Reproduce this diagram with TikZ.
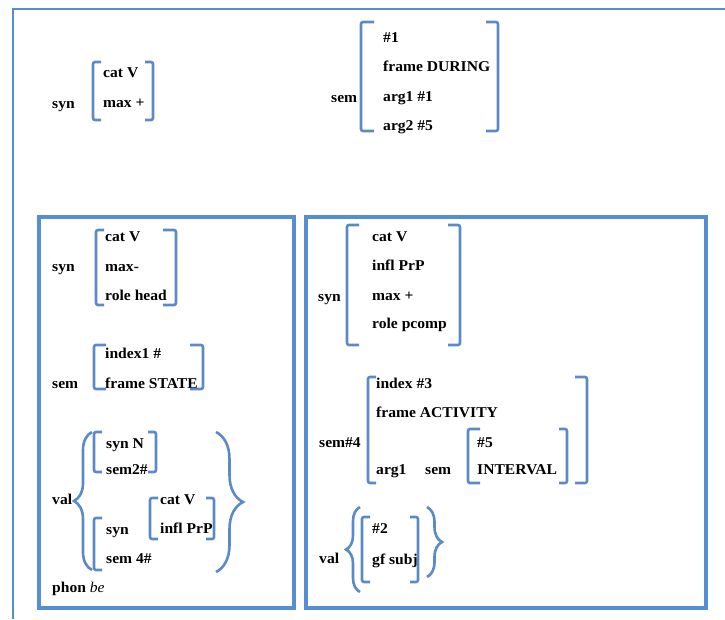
\documentclass[tikz,border=0pt]{standalone}
\usepackage{fontspec}
\setmainfont{Liberation Serif}[FakeStretch=1.04]
\usetikzlibrary{decorations.pathreplacing}
\definecolor{frameblue}{RGB}{85,142,213}
\definecolor{brkblue}{RGB}{92,138,198}

\begin{document}
\begin{tikzpicture}[x=1pt, y=-1pt,
  lbl/.style={anchor=mid west, inner sep=0pt, yshift=-3pt, font=\fontsize{15}{17}\selectfont\bfseries},
  brk/.style={draw=brkblue, line width=2.6pt, rounded corners=2pt},
  box/.style={draw=frameblue, line width=3.6pt},
  frame/.style={draw=frameblue, line width=2.6pt},
  brc/.style={draw=brkblue, line width=2.6pt, decorate, decoration={brace, amplitude=#1}}]
  \useasboundingbox (0,0) rectangle (725,619);
  % frames
  \draw[frame] (725,9) -- (13,9) -- (13,619);
  \draw[box] (39,217) rectangle (294,608);
  \draw[box] (306,217) rectangle (706,608);
  % top: syn
  \node[lbl] (topsyn) at (52,103) {syn};
  \node[lbl] (topcat) at (103,72) {cat V};
  \node[lbl] (topmax) at (103,102) {max +};
  \draw[brk] (101,62) -- (93,62) -- (93,120) -- (101,120);
  \draw[brk] (145,62) -- (153,62) -- (153,120) -- (145,120);
  % top: sem
  \node[lbl] (topsem) at (331,97) {sem};
  \node[lbl] (topone) at (383,37) {\#1};
  \node[lbl] (topframe) at (383,66) {frame DURING};
  \node[lbl] (toparga) at (383,96) {arg1 \#1};
  \node[lbl] (topargb) at (383,125) {arg2 \#5};
  \draw[brk] (374,22) -- (361,22) -- (361,131) -- (374,131);
  \draw[brk] (486,22) -- (498,22) -- (498,131) -- (486,131);
  % left box: syn
  \node[lbl] (lsyn) at (52,266) {syn};
  \node[lbl] (lcat) at (105,236) {cat V};
  \node[lbl] (lmax) at (105,266) {max-};
  \node[lbl] (lrole) at (105,295) {role head};
  \draw[brk] (104,230) -- (96,230) -- (96,305) -- (104,305);
  \draw[brk] (163,230) -- (176,230) -- (176,305) -- (163,305);
  % left box: sem
  \node[lbl] (lsem) at (52,383) {sem};
  \node[lbl] (lindex) at (105,353) {index1 \#};
  \node[lbl] (lframe) at (105,383) {frame STATE};
  \draw[brk] (106,345) -- (94,345) -- (94,389) -- (106,389);
  \draw[brk] (190,345) -- (203,345) -- (203,389) -- (190,389);
  % left box: val
  \node[lbl] (lval) at (52,499) {val};
  \draw[brc=18pt] (92,570) -- (92,432);
  \node[lbl] (lsynn) at (106,443) {syn N};
  \node[lbl] (lsemb) at (106,469) {sem2\#};
  \draw[brk] (102,432) -- (94,432) -- (94,472) -- (102,472);
  \draw[brk] (148,432) -- (156,432) -- (156,472) -- (148,472);
  \node[lbl] (lsynv) at (106,529) {syn};
  \node[lbl] (lsemd) at (106,558) {sem 4\#};
  \draw[brk] (102,518) -- (94,518) -- (94,570) -- (102,570);
  \node[lbl] (lcatv) at (160,499) {cat V};
  \node[lbl] (linfl) at (160,528) {infl PrP};
  \draw[brk] (158,498) -- (150,498) -- (150,539) -- (158,539);
  \draw[brk] (206,498) -- (214,498) -- (214,539) -- (206,539);
  \draw[brc=27pt] (216,432) -- (216,572);
  \node[lbl] (lphon) at (52,587) {phon {\mdseries\itshape be}};
  % right box: syn
  \node[lbl] (rsyn) at (318,296) {syn};
  \node[lbl] (rcat) at (372,236) {cat V};
  \node[lbl] (rinfl) at (372,265) {infl PrP};
  \node[lbl] (rmax) at (372,295) {max +};
  \node[lbl] (rrole) at (372,323) {role pcomp};
  \draw[brk] (359,225) -- (347,225) -- (347,345) -- (359,345);
  \draw[brk] (448,225) -- (460,225) -- (460,345) -- (448,345);
  % right box: sem#4
  \node[lbl] (rsem) at (319,442) {sem\#4};
  \node[lbl] (rindex) at (376,383) {index \#3};
  \node[lbl] (rframe) at (376,412) {frame ACTIVITY};
  \node[lbl] (rarg) at (376,469) {arg1};
  \node[lbl] (rsemi) at (425,469) {sem};
  \node[lbl] (rfive) at (477,442) {\#5};
  \node[lbl] (rintv) at (477,469) {INTERVAL};
  \draw[brk] (376,377) -- (368,377) -- (368,483) -- (376,483);
  \draw[brk] (480,429) -- (468,429) -- (468,483) -- (480,483);
  \draw[brk] (559,429) -- (567,429) -- (567,483) -- (559,483);
  \draw[brk] (575,377) -- (587,377) -- (587,483) -- (575,483);
  % right box: val
  \node[lbl] (rval) at (319,558) {val};
  \draw[brc=14pt] (360,592) -- (360,507);
  \node[lbl] (rtwo) at (372,528) {\#2};
  \node[lbl] (rgf) at (372,559) {gf subj};
  \draw[brk] (370,517) -- (362,517) -- (362,582) -- (370,582);
  \draw[brk] (410,517) -- (418,517) -- (418,582) -- (410,582);
  \draw[brc=15pt] (427,507) -- (427,577);
\end{tikzpicture}
\end{document}
